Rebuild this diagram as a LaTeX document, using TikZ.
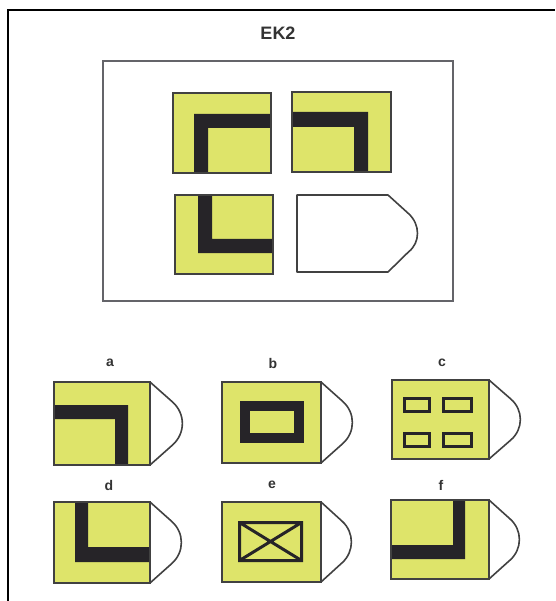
\documentclass[tikz,border=0pt]{standalone}
\usepackage{fontspec}
\setmainfont{Liberation Sans}
\usepackage{xcolor}
\usetikzlibrary{positioning}

\definecolor{cardyellow}{RGB}{222,228,106}
\definecolor{barblack}{RGB}{38,36,40}
\definecolor{edgegray}{RGB}{65,65,65}
\definecolor{boxgray}{RGB}{100,100,105}

\begin{document}
\begin{tikzpicture}[
  x=1pt, y=-1pt,
  card/.style={fill=cardyellow},
  cardline/.style={draw=edgegray, line width=1.8pt},
  bar/.style={fill=barblack},
  tab/.style={draw=edgegray, line width=1.6pt, line join=round},
  lbl/.style={font=\bfseries\fontsize{14}{14}\selectfont, text=black!80, inner sep=0pt},
  title/.style={font=\bfseries\fontsize{18}{18}\selectfont, text=black!80, inner sep=0pt}
]
\useasboundingbox (0,0) rectangle (555,601);

% outer frame and title
\draw[line width=2.5pt] (8,601) -- (8,10) -- (555,10);
\node[title] (ek) at (278,33) {EK2};

% question box
\draw[boxgray, line width=1.8pt] (103,61) rectangle (453,301);

% top row
\fill[card] (173,93) rectangle (271,173);
\fill[bar] (194,114) -- (271,114) -- (271,128) -- (208,128) -- (208,173) -- (194,173) -- cycle;
\draw[cardline] (173,93) rectangle (271,173);

\fill[card] (292,92) rectangle (391,172);
\fill[bar] (292,112) -- (368,112) -- (368,172) -- (354,172) -- (354,127) -- (292,127) -- cycle;
\draw[cardline] (292,92) rectangle (391,172);

% second row
\fill[card] (175,195) rectangle (273,274);
\fill[bar] (198,195) -- (212,195) -- (212,239) -- (273,239) -- (273,253) -- (198,253) -- cycle;
\draw[cardline] (175,195) rectangle (273,274);

\draw[tab] (388,195) -- (297,195) -- (297,272) -- (388,272)
  -- (408.4,252) .. controls (420.5,242.7) and (420.5,224.3) .. (408.4,213.5) -- cycle;

% answer labels
\node[lbl] (la) at (110,363) {a};
\node[lbl] (lb) at (273,363) {b};
\node[lbl] (lc) at (442,363) {c};
\node[lbl] (ld) at (109,485) {d};
\node[lbl] (le) at (272,485) {e};
\node[lbl] (lf) at (441,485) {f};

% answer cards
\fill[card] (54,382) rectangle (150,465);
\fill[bar] (54,405) -- (128,405) -- (128,465) -- (115,465) -- (115,419) -- (54,419) -- cycle;
\draw[cardline] (54,382) rectangle (150,465);

\fill[card] (222,382) rectangle (321,463);
\draw[barblack, line width=10pt] (244.5,406) rectangle (298.5,438);
\draw[cardline] (222,382) rectangle (321,463);

\fill[card] (392,380) rectangle (489,459);
\draw[barblack, line width=3pt] (404.5,398.5) rectangle (429.5,411.5);
\draw[barblack, line width=3pt] (443.5,398.5) rectangle (471.5,411.5);
\draw[barblack, line width=3pt] (404.5,433.5) rectangle (429.5,446.5);
\draw[barblack, line width=3pt] (443.5,433.5) rectangle (471.5,446.5);
\draw[cardline] (392,380) rectangle (489,459);

\fill[card] (54,502) rectangle (150,583);
\fill[bar] (75,502) -- (88,502) -- (88,547) -- (150,547) -- (150,562) -- (75,562) -- cycle;
\draw[cardline] (54,502) rectangle (150,583);

\fill[card] (222,502) rectangle (321,582);
\draw[barblack, line width=3pt] (239.5,522.5) rectangle (301.5,560.5)
  (239.5,522.5) -- (301.5,560.5) (239.5,560.5) -- (301.5,522.5);
\draw[cardline] (222,502) rectangle (321,582);

\fill[card] (391,500) rectangle (489,579);
\fill[bar] (453,500) -- (465,500) -- (465,559) -- (391,559) -- (391,545) -- (453,545) -- cycle;
\draw[cardline] (391,500) rectangle (489,579);

% tabs on the answer cards
\foreach \r/\t/\b/\w in {150/382/465/33, 321/382/463/32, 489/380/459/32,
                         150/502/583/32, 321/502/582/31, 489/500/579/31}
  \draw[tab] (\r,\t) -- ({\r+0.68*\w},{(\t+\b)/2-0.26*(\b-\t)})
    .. controls ({\r+1.08*\w},{(\t+\b)/2-0.12*(\b-\t)}) and ({\r+1.08*\w},{(\t+\b)/2+0.12*(\b-\t)})
    .. ({\r+0.68*\w},{(\t+\b)/2+0.26*(\b-\t)}) -- (\r,\b);
\end{tikzpicture}
\end{document}
